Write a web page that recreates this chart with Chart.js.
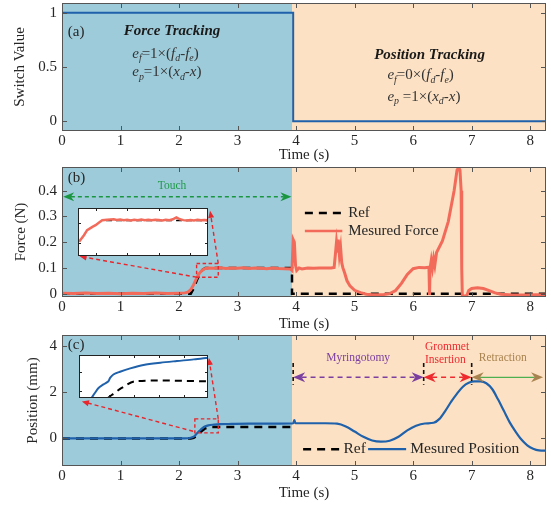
<!DOCTYPE html>
<html><head><meta charset="utf-8">
<script src="https://cdn.jsdelivr.net/npm/chart.js@4.4.1/dist/chart.umd.min.js"></script>
<style>
html,body{margin:0;padding:0;background:#fff;width:551px;height:506px;overflow:hidden}
canvas{position:absolute;left:0}
</style></head><body>
<canvas id="ca" width="551" height="164" style="top:0px"></canvas>
<canvas id="cb" width="551" height="169" style="top:164px"></canvas>
<canvas id="cc" width="551" height="170" style="top:332px"></canvas>
<canvas id="ib" width="10" height="10"></canvas>
<canvas id="ic" width="10" height="10"></canvas>
<script>
// ---------------- DATA ----------------
const X_MAX = 8.27;
const SWITCH_T = 3.93;
const timeTicks = [0, 1, 2, 3, 4, 5, 6, 7, 8];

// (a) switch value
const switchTicks = [0, 0.5, 1];
const switchT   = [0, 3.95, 3.95, 8.27];
const switchVal = [1, 1, 0, 0];

// (b) force
const forceTicks = [0, 0.1, 0.2, 0.3, 0.4];
const forceRefT   = [0, 2.2, 2.25, 2.3, 2.35, 2.4, 2.45, 3.93, 3.93, 8.27];
const forceRefVal = [0, 0, 0.02, 0.05, 0.075, 0.092, 0.1, 0.1, 0, 0];
const forceT = [0, 0.2, 0.4, 0.6, 0.8, 1.0, 1.2, 1.4, 1.6, 1.8, 2.0, 2.1,
  2.15, 2.2, 2.25, 2.3, 2.35, 2.4, 2.45, 2.5,
  2.6, 2.7, 2.8, 2.9, 3.0, 3.1, 3.2, 3.3, 3.4, 3.5, 3.6, 3.7, 3.8, 3.9, 3.93,
  3.95, 3.97, 3.99, 4.01, 4.05, 4.1, 4.2, 4.3, 4.4, 4.5, 4.6, 4.65,
  4.67, 4.69, 4.71, 4.72, 4.74, 4.76, 4.78, 4.8, 4.83, 4.87, 4.92, 5.0, 5.1,
  5.2, 5.3, 5.4, 5.5, 5.6, 5.7, 5.8, 5.9, 6.0, 6.1, 6.2, 6.27, 6.28, 6.29,
  6.31, 6.33, 6.35, 6.37, 6.4, 6.5, 6.6, 6.7, 6.75, 6.78, 6.8, 6.82, 6.83, 6.84,
  6.88, 6.92, 6.95, 7.0, 7.1, 7.2, 7.3, 7.4, 7.5, 7.7, 7.9, 8.1, 8.27];
const forceVal = [0.002, 0.001, 0.003, 0.001, 0.002, 0.000, 0.002, 0.001, 0.003, 0.001, 0.002, 0.003,
  0.006, 0.015, 0.035, 0.06, 0.08, 0.092, 0.098, 0.1,
  0.099, 0.101, 0.098, 0.1, 0.099, 0.101, 0.098, 0.1, 0.099, 0.097, 0.1, 0.098, 0.097, 0.096, 0.09,
  0.21, 0.2, 0.11, 0.09, 0.1, 0.096, 0.1, 0.099, 0.1, 0.1, 0.1, 0.102,
  0.15, 0.2, 0.16, 0.21, 0.15, 0.18, 0.12, 0.1, 0.08, 0.05, 0.03, 0.013, 0.004,
  -0.002, -0.004, -0.004, -0.003, 0.0, 0.012, 0.04, 0.075, 0.097, 0.102, 0.101, 0.103, -0.005, 0.1,
  0.13, 0.1, 0.135, 0.11, 0.16, 0.205, 0.28, 0.4, 0.48, 0.49, 0.48, 0.4, 0.1, -0.005,
  -0.01, -0.005, 0.012, 0.02, 0.023, 0.02, 0.012, 0.003, -0.002, -0.005, -0.005, -0.004, -0.005];

// (b) inset
const insetForceT = [2.303, 2.317, 2.326, 2.341, 2.35, 2.36, 2.369, 2.383, 2.402,
  2.41, 2.42, 2.43, 2.44, 2.45, 2.46, 2.47, 2.48, 2.49, 2.5, 2.51, 2.52, 2.53, 2.54,
  2.55, 2.56, 2.57, 2.58, 2.59, 2.6, 2.61, 2.62, 2.63, 2.64, 2.65, 2.66, 2.67];
const insetForceVal = [0.0797, 0.087, 0.0925, 0.0962, 0.098, 0.101, 0.1035, 0.104, 0.1046,
  0.1038, 0.1043, 0.1035, 0.1041, 0.1033, 0.104, 0.1036, 0.1042, 0.1034, 0.1039, 0.1035, 0.1041, 0.1037, 0.1033,
  0.104, 0.1036, 0.1045, 0.1065, 0.1045, 0.1036, 0.1031, 0.1037, 0.1033, 0.1039, 0.1034, 0.1038, 0.1036];
const insetForceRefT   = [2.38, 2.67];
const insetForceRefVal = [0.1032, 0.1032];
const insetForceXTicks = [2.35, 2.44, 2.53, 2.62];
const insetForceYTicks = [0.078, 0.1];

// (c) position
const posTicks = [0, 2, 4];
const posRefT   = [0, 2.2, 2.25, 2.3, 2.35, 2.4, 2.45, 2.5, 2.55, 3.93];
const posRefVal = [0, 0, 0.03, 0.1, 0.22, 0.35, 0.44, 0.48, 0.5, 0.5];
const posT = [0, 0.5, 1.0, 1.5, 2.0, 2.1, 2.2, 2.25, 2.3, 2.35, 2.4, 2.45, 2.5, 2.6, 2.7, 2.9,
  3.2, 3.5, 3.9, 3.95, 3.97, 3.99, 4.2, 4.5, 4.7, 4.85, 5.0, 5.15, 5.3, 5.45, 5.6, 5.75,
  5.9, 6.05, 6.2, 6.35, 6.45, 6.55, 6.65, 6.75, 6.85, 6.95, 7.05, 7.15, 7.25, 7.35, 7.45,
  7.55, 7.65, 7.75, 7.85, 7.95, 8.05, 8.15, 8.27];
const posVal = [0, 0, 0, 0, 0, 0, 0.03, 0.08, 0.2, 0.33, 0.45, 0.53, 0.57, 0.6, 0.62, 0.63,
  0.64, 0.64, 0.65, 0.66, 0.8, 0.66, 0.66, 0.66, 0.64, 0.52, 0.3, 0.07, -0.09, -0.14, -0.1, 0.07,
  0.35, 0.55, 0.65, 0.68, 0.85, 1.2, 1.6, 1.95, 2.25, 2.42, 2.48, 2.48, 2.4, 2.15, 1.7,
  1.2, 0.7, 0.3, -0.05, -0.3, -0.45, -0.52, -0.53];

// (c) inset
const insetPosT   = [2.318, 2.328, 2.339, 2.354, 2.369, 2.374, 2.384, 2.404, 2.435, 2.475, 2.526, 2.576, 2.627, 2.67];
const insetPosVal = [0.2, 0.27, 0.34, 0.39, 0.434, 0.48, 0.528, 0.566, 0.613, 0.66, 0.692, 0.716, 0.739, 0.763];
const insetPosRefT   = [2.367, 2.409, 2.45, 2.67];
const insetPosRefVal = [0.2, 0.34, 0.434, 0.434];
const insetPosXTicks = [2.372, 2.447, 2.523, 2.598];
const insetPosYTicks = [0.303, 0.434, 0.566];

// ---------------- STYLE ----------------
const FONT = "'Liberation Serif','Times New Roman',serif";
const BLUE_BG = '#9ecbda';
const ORANGE_BG = '#fce1c4';
const LINE_BLUE = '#1f61aa';
const LINE_RED = '#f26a5a';
const TXT = '#262626';
Chart.defaults.font.family = FONT;
Chart.defaults.animation = false;

const pts = (xs, ys) => xs.map((v, i) => ({x: v, y: ys[i]}));

function head(ctx, tx, ty, ang, len, w, color, notch) {
  ctx.save(); ctx.translate(tx, ty); ctx.rotate(ang);
  ctx.beginPath(); ctx.moveTo(0, 0); ctx.lineTo(-len, -w / 2);
  ctx.lineTo(-len * (1 - notch), 0); ctx.lineTo(-len, w / 2); ctx.closePath();
  ctx.fillStyle = color; ctx.fill(); ctx.restore();
}
function arrowLine(ctx, x1, y1, x2, y2, o) {
  // o: color, lineColor, dash, width, start(bool), end(bool), len, w, notch
  const ang = Math.atan2(y2 - y1, x2 - x1);
  const back = o.len * 0.7;
  let sx = x1, sy = y1, ex = x2, ey = y2;
  if (o.start) { sx += Math.cos(ang) * back; sy += Math.sin(ang) * back; }
  if (o.end) { ex -= Math.cos(ang) * back; ey -= Math.sin(ang) * back; }
  ctx.save();
  ctx.strokeStyle = o.lineColor || o.color; ctx.lineWidth = o.width;
  ctx.setLineDash(o.dash || []);
  ctx.beginPath(); ctx.moveTo(sx, sy); ctx.lineTo(ex, ey); ctx.stroke();
  ctx.restore();
  if (o.end) head(ctx, x2, y2, ang, o.len, o.w, o.color, o.notch);
  if (o.start) head(ctx, x1, y1, ang + Math.PI, o.len, o.w, o.color, o.notch);
}
function drawEq(ctx, x, y, parts, size, color) {
  let cx = x;
  ctx.save(); ctx.fillStyle = color; ctx.textBaseline = 'middle'; ctx.textAlign = 'left';
  parts.forEach(p => {
    const fs = p.sub ? size * 0.66 : size;
    ctx.font = (p.it ? 'italic ' : '') + fs + 'px ' + FONT;
    ctx.fillText(p.t, cx, y + (p.sub ? size * 0.32 : 0));
    cx += ctx.measureText(p.t).width;
  });
  ctx.restore();
}
function txt(ctx, s, x, y, font, color, align) {
  ctx.save(); ctx.font = font; ctx.fillStyle = color; ctx.textAlign = align || 'left';
  ctx.textBaseline = 'middle'; ctx.fillText(s, x, y); ctx.restore();
}

const bgPlugin = {
  id: 'bgRegions',
  beforeDatasetsDraw(chart) {
    const {ctx, chartArea: a, scales: {x}} = chart;
    const xs = x.getPixelForValue(SWITCH_T);
    ctx.save();
    ctx.fillStyle = BLUE_BG; ctx.fillRect(a.left, a.top, xs - a.left, a.bottom - a.top);
    ctx.fillStyle = ORANGE_BG; ctx.fillRect(xs, a.top, a.right - xs, a.bottom - a.top);
    ctx.restore();
  }
};
function framePlugin(tl, color) {
  return {
    id: 'frameTicks',
    afterDatasetsDraw(chart) {
      const {ctx, chartArea: a, scales: {x, y}} = chart;
      ctx.save(); ctx.strokeStyle = color; ctx.lineWidth = 1;
      ctx.beginPath();
      x.ticks.forEach(t => {
        const p = Math.round(x.getPixelForValue(t.value)) + 0.5;
        if (p <= a.left + 1 || p >= a.right - 1) return;
        ctx.moveTo(p, a.bottom); ctx.lineTo(p, a.bottom - tl);
        ctx.moveTo(p, a.top); ctx.lineTo(p, a.top + tl);
      });
      y.ticks.forEach(t => {
        const p = Math.round(y.getPixelForValue(t.value)) + 0.5;
        if (p <= a.top + 1 || p >= a.bottom - 1) return;
        ctx.moveTo(a.left, p); ctx.lineTo(a.left + tl, p);
        ctx.moveTo(a.right, p); ctx.lineTo(a.right - tl, p);
      });
      ctx.stroke();
      ctx.strokeRect(Math.round(a.left) + 0.5, Math.round(a.top) + 0.5,
        Math.round(a.right - a.left) - 1, Math.round(a.bottom - a.top) - 1);
      ctx.restore();
    }
  };
}

function makeMain(id, cfg) {
  return new Chart(document.getElementById(id), {
    type: 'line',
    data: {datasets: cfg.datasets},
    options: {
      responsive: false, maintainAspectRatio: false, animation: false,
      layout: {padding: {top: 3, right: 5, left: 0, bottom: 0}},
      plugins: {legend: {display: false}, tooltip: {enabled: false}},
      elements: {point: {radius: 0}},
      scales: {
        x: {
          type: 'linear', min: 0, max: X_MAX,
          afterBuildTicks: s => { s.ticks = timeTicks.map(v => ({value: v})); },
          afterFit: s => { s.height = cfg.xh; s.paddingLeft = 0; s.paddingRight = 0; },
          grid: {display: false, drawTicks: false}, border: {display: false},
          ticks: {font: {size: 15}, color: TXT, padding: 1, maxRotation: 0, autoSkip: false,
            callback: v => String(v)},
          title: {display: true, text: 'Time (s)', font: {size: 15}, color: TXT, padding: 0}
        },
        y: {
          type: 'linear', min: cfg.ymin, max: cfg.ymax,
          afterBuildTicks: s => { s.ticks = cfg.yticks.map(v => ({value: v})); },
          afterFit: s => { s.width = 62; s.paddingTop = 0; s.paddingBottom = 0; },
          grid: {display: false, drawTicks: false}, border: {display: false},
          ticks: {font: {size: 15}, color: TXT, padding: 5, callback: v => String(v)},
          title: {display: true, text: cfg.ytitle, font: {size: 15}, color: TXT,
            padding: {top: cfg.ytp, bottom: 0}}
        }
      }
    },
    plugins: [bgPlugin, framePlugin(5, '#555'), {id: 'ann', afterDraw: cfg.ann}]
  });
}

function makeInset(id, main, topOff, box, cfg) {
  const xs = main.scales.x, ys = main.scales.y;
  const l = Math.round(xs.getPixelForValue(box.x0)), r = Math.round(xs.getPixelForValue(box.x1));
  const t = Math.round(ys.getPixelForValue(box.y1)), b = Math.round(ys.getPixelForValue(box.y0));
  const c = document.getElementById(id);
  c.width = r - l; c.height = b - t;
  c.style.left = l + 'px'; c.style.top = (topOff + t) + 'px';
  return new Chart(c, {
    type: 'line',
    data: {datasets: cfg.datasets},
    options: {
      responsive: false, maintainAspectRatio: false, animation: false,
      layout: {padding: 0},
      plugins: {legend: {display: false}, tooltip: {enabled: false}},
      elements: {point: {radius: 0}},
      scales: {
        x: {type: 'linear', min: cfg.xmin, max: cfg.xmax, display: false,
          afterBuildTicks: s => { s.ticks = cfg.xticks.map(v => ({value: v})); }},
        y: {type: 'linear', min: cfg.ymin, max: cfg.ymax, display: false,
          afterBuildTicks: s => { s.ticks = cfg.yticks.map(v => ({value: v})); }}
      }
    },
    plugins: [{id: 'white', beforeDatasetsDraw(ch) { const a = ch.chartArea; ch.ctx.save(); ch.ctx.fillStyle = '#fff'; ch.ctx.fillRect(a.left, a.top, a.right - a.left, a.bottom - a.top); ch.ctx.restore(); }},
      framePlugin(3, '#222')]
  });
}

// ---------------- (a) ----------------
const eqA1 = [{t: 'e', it: 1}, {t: 'f', it: 1, sub: 1}, {t: '=1×('}, {t: 'f', it: 1}, {t: 'd', it: 1, sub: 1}, {t: '-'}, {t: 'f', it: 1}, {t: 'e', it: 1, sub: 1}, {t: ')'}];
const eqA2 = [{t: 'e', it: 1}, {t: 'p', it: 1, sub: 1}, {t: '=1×('}, {t: 'x', it: 1}, {t: 'd', it: 1, sub: 1}, {t: '-'}, {t: 'x', it: 1}, {t: ')'}];
const eqA3 = [{t: 'e', it: 1}, {t: 'f', it: 1, sub: 1}, {t: '=0×('}, {t: 'f', it: 1}, {t: 'd', it: 1, sub: 1}, {t: '-'}, {t: 'f', it: 1}, {t: 'e', it: 1, sub: 1}, {t: ')'}];
const eqA4 = [{t: 'e', it: 1}, {t: 'p', it: 1, sub: 1}, {t: ' =1×('}, {t: 'x', it: 1}, {t: 'd', it: 1, sub: 1}, {t: '-'}, {t: 'x', it: 1}, {t: ')'}];

const chA = makeMain('ca', {
  xh: 33, ymin: -0.09, ymax: 1.09, yticks: switchTicks, ytitle: 'Switch Value', ytp: 11,
  datasets: [{data: pts(switchT, switchVal), borderColor: LINE_BLUE, borderWidth: 2, tension: 0}],
  ann(chart) {
    const {ctx, scales: {x, y}} = chart;
    txt(ctx, '(a)', x.getPixelForValue(0.1), y.getPixelForValue(0.824), '15px ' + FONT, TXT);
    txt(ctx, 'Force Tracking', x.getPixelForValue(1.88), y.getPixelForValue(0.834), 'italic bold 15px ' + FONT, '#1a1a1a', 'center');
    drawEq(ctx, x.getPixelForValue(1.2), y.getPixelForValue(0.623), eqA1, 15, '#333');
    drawEq(ctx, x.getPixelForValue(1.2), y.getPixelForValue(0.452), eqA2, 15, '#333');
    txt(ctx, 'Position Tracking', x.getPixelForValue(6.28), y.getPixelForValue(0.61), 'italic bold 15px ' + FONT, '#1a1a1a', 'center');
    drawEq(ctx, x.getPixelForValue(5.56), y.getPixelForValue(0.425), eqA3, 15, '#333');
    drawEq(ctx, x.getPixelForValue(5.56), y.getPixelForValue(0.224), eqA4, 15, '#333');
  }
});

// ---------------- (b) ----------------
const chB = makeMain('cb', {
  xh: 36, ymin: -0.013, ymax: 0.492, yticks: forceTicks, ytitle: 'Force (N)', ytp: 12.5,
  datasets: [
    {data: pts(forceT, forceVal), borderColor: LINE_RED, borderWidth: 3, tension: 0, order: 1},
    {data: pts(forceRefT, forceRefVal), borderColor: '#000', borderWidth: 2.5, borderDash: [8, 6], tension: 0, order: 2}
  ],
  ann(chart) {
    const {ctx, scales: {x, y}} = chart;
    const X = v => x.getPixelForValue(v), Y = v => y.getPixelForValue(v);
    txt(ctx, '(b)', X(0.1), Y(0.449), '15px ' + FONT, TXT);
    txt(ctx, 'Touch', X(1.88), Y(0.418), '11.5px ' + FONT, '#1f9a4a', 'center');
    arrowLine(ctx, X(0.02), Y(0.376), X(SWITCH_T - 0.01), Y(0.376),
      {color: '#1a9641', width: 1.5, dash: [4, 3], start: true, end: true, len: 11, w: 9, notch: 0.3});
    // legend
    ctx.save(); ctx.lineWidth = 2.5; ctx.strokeStyle = '#000'; ctx.setLineDash([8, 6]);
    ctx.beginPath(); ctx.moveTo(X(4.15), Y(0.313)); ctx.lineTo(X(4.79), Y(0.313)); ctx.stroke();
    ctx.setLineDash([]); ctx.strokeStyle = LINE_RED;
    ctx.beginPath(); ctx.moveTo(X(4.15), Y(0.243)); ctx.lineTo(X(4.79), Y(0.243)); ctx.stroke();
    ctx.restore();
    txt(ctx, 'Ref', X(4.89), Y(0.313), '15px ' + FONT, TXT);
    txt(ctx, 'Mesured Force', X(4.89), Y(0.243), '15px ' + FONT, TXT);
    // zoom rectangle and connectors
    ctx.save(); ctx.strokeStyle = '#e8262b'; ctx.lineWidth = 1.4; ctx.setLineDash([3.5, 2.5]);
    ctx.strokeRect(X(2.30), Y(0.117), X(2.67) - X(2.30), Y(0.064) - Y(0.117));
    ctx.restore();
    const rc = {color: '#e8262b', width: 1.4, dash: [4, 3], end: true, len: 7, w: 6, notch: 0};
    arrowLine(ctx, X(2.67), Y(0.117), X(2.53), Y(0.322), rc);
    arrowLine(ctx, X(2.30), Y(0.064), X(0.30), Y(0.145), rc);
  }
});

// ---------------- (c) ----------------
const chC = makeMain('cc', {
  xh: 36, ymin: -1.2, ymax: 4.5, yticks: posTicks, ytitle: 'Position (mm)', ytp: 24,
  datasets: [
    {data: pts(posT, posVal), borderColor: LINE_BLUE, borderWidth: 2.2, cubicInterpolationMode: 'monotone', order: 1},
    {data: pts(posRefT, posRefVal), borderColor: '#000', borderWidth: 2.5, borderDash: [8, 6], tension: 0, order: 2}
  ],
  ann(chart) {
    const {ctx, scales: {x, y}} = chart;
    const X = v => x.getPixelForValue(v), Y = v => y.getPixelForValue(v);
    txt(ctx, '(c)', X(0.1), Y(4.06), '15px ' + FONT, TXT);
    // phase markers
    ctx.save(); ctx.strokeStyle = '#111'; ctx.lineWidth = 1.6; ctx.setLineDash([4, 3]);
    [3.95, 6.18, 7.0].forEach(t => { ctx.beginPath(); ctx.moveTo(X(t), Y(3.28)); ctx.lineTo(X(t), Y(2.33)); ctx.stroke(); });
    ctx.restore();
    const ay = Y(2.66);
    arrowLine(ctx, X(3.95), ay, X(6.18), ay, {color: '#7b3fa0', width: 1.6, dash: [5, 4], start: true, end: true, len: 12, w: 10, notch: 0.3});
    arrowLine(ctx, X(6.18), ay, X(7.0), ay, {color: '#ee2a2f', width: 1.6, dash: [5, 4], start: true, end: true, len: 12, w: 10, notch: 0.3});
    arrowLine(ctx, X(7.0), ay, X(8.22), ay, {color: '#a9834f', lineColor: '#4caf50', width: 1.2, start: true, end: true, len: 12, w: 10, notch: 0.3});
    txt(ctx, 'Myringotomy', X(5.06), Y(3.5), '11.5px ' + FONT, '#7b3fa0', 'center');
    txt(ctx, 'Grommet', X(6.58), Y(3.99), '11.5px ' + FONT, '#ee2a2f', 'center');
    txt(ctx, 'Insertion', X(6.55), Y(3.41), '11.5px ' + FONT, '#ee2a2f', 'center');
    txt(ctx, 'Retraction', X(7.53), Y(3.5), '11.5px ' + FONT, '#a9834f', 'center');
    // legend
    ctx.save(); ctx.lineWidth = 2.5; ctx.strokeStyle = '#000'; ctx.setLineDash([8, 6]);
    ctx.beginPath(); ctx.moveTo(X(4.12), Y(-0.47)); ctx.lineTo(X(4.75), Y(-0.47)); ctx.stroke();
    ctx.setLineDash([]); ctx.strokeStyle = LINE_BLUE; ctx.lineWidth = 2.2;
    ctx.beginPath(); ctx.moveTo(X(5.23), Y(-0.47)); ctx.lineTo(X(5.88), Y(-0.47)); ctx.stroke();
    ctx.restore();
    txt(ctx, 'Ref', X(4.81), Y(-0.47), '15.5px ' + FONT, TXT);
    txt(ctx, 'Mesured Position', X(5.95), Y(-0.47), '15.5px ' + FONT, TXT);
    // zoom rectangle and connectors
    ctx.save(); ctx.strokeStyle = '#e8262b'; ctx.lineWidth = 1.4; ctx.setLineDash([3.5, 2.5]);
    ctx.strokeRect(X(2.27), Y(0.85), X(2.67) - X(2.27), Y(0.24) - Y(0.85));
    ctx.restore();
    const rc = {color: '#e8262b', width: 1.4, dash: [4, 3], end: true, len: 7, w: 6, notch: 0};
    arrowLine(ctx, X(2.67), Y(0.85), X(2.51), Y(3.5), rc);
    arrowLine(ctx, X(2.24), Y(0.31), X(0.34), Y(1.61), rc);
  }
});

// ---------------- insets ----------------
makeInset('ib', chB, 164, {x0: 0.27, x1: 2.49, y0: 0.145, y1: 0.333}, {
  xmin: 2.3, xmax: 2.67, ymin: 0.064, ymax: 0.117, xticks: insetForceXTicks, yticks: insetForceYTicks,
  datasets: [
    {data: pts(insetForceT, insetForceVal), borderColor: LINE_RED, borderWidth: 2.5, tension: 0, order: 1},
    {data: pts(insetForceRefT, insetForceRefVal), borderColor: '#000', borderWidth: 1.5, borderDash: [6, 4], tension: 0, order: 2}
  ]
});
makeInset('ic', chC, 332, {x0: 0.29, x1: 2.49, y0: 1.76, y1: 3.62}, {
  xmin: 2.28, xmax: 2.67, ymin: 0.2, ymax: 0.8, xticks: insetPosXTicks, yticks: insetPosYTicks,
  datasets: [
    {data: pts(insetPosT, insetPosVal), borderColor: LINE_BLUE, borderWidth: 2, tension: 0.3, order: 1},
    {data: pts(insetPosRefT, insetPosRefVal), borderColor: '#000', borderWidth: 2, borderDash: [7, 5], tension: 0.3, order: 2}
  ]
});
</script>
</body></html>
